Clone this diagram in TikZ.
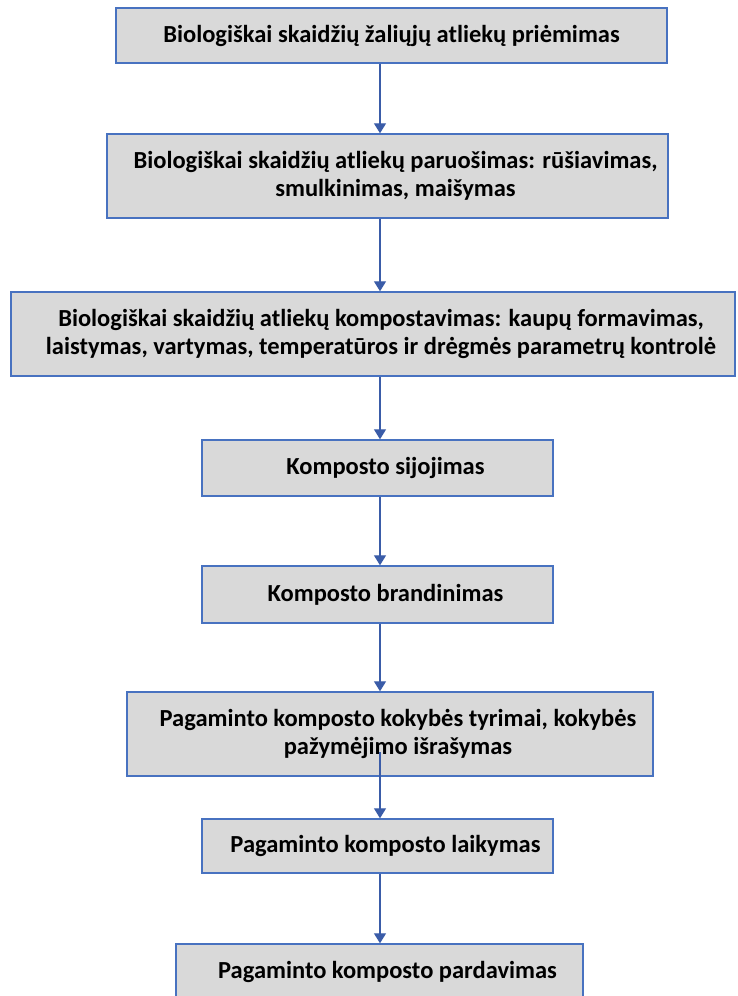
\documentclass[tikz,border=0pt]{standalone}
\usepackage{fontspec}
\setmainfont{Carlito}
\usepackage{xcolor}
\usepackage{tikz}
\usetikzlibrary{arrows.meta, positioning, calc}
\definecolor{stepgray}{RGB}{217,217,217}
\definecolor{stepblue}{RGB}{72,114,192}
\definecolor{arrowblue}{RGB}{58,92,168}
\tikzset{
  stepbox/.style={rectangle, draw=stepblue, fill=stepgray, line width=1.4pt,
    inner sep=0pt},
  steptext/.style={align=center, inner sep=0pt, xshift=8pt,
    font=\fontsize{24.5}{28}\selectfont\bfseries},
  arrow/.style={-{Triangle[length=10pt, width=12pt]}, line width=1.3pt, color=arrowblue},
}
\begin{document}
\begin{tikzpicture}[x=1pt, y=-1pt]
  \clip (0,0) rectangle (738,996);
  \coordinate (axis) at (380,0);
  \node[stepbox, minimum width=551pt, minimum height=55pt] (k1) at (391.5,35.5) {};
  \node[stepbox, minimum width=561pt, minimum height=84pt] (k2) at (387.5,176) {};
  \node[stepbox, minimum width=724pt, minimum height=84pt] (k3) at (373,334) {};
  \node[stepbox, minimum width=351pt, minimum height=56pt] (k4) at (377.5,468) {};
  \node[stepbox, minimum width=351pt, minimum height=57pt] (k5) at (377.5,594.5) {};
  \node[stepbox, minimum width=526pt, minimum height=84pt] (k6) at (390,734) {};
  \node[stepbox, minimum width=351pt, minimum height=54pt] (k7) at (377.5,846) {};
  \node[stepbox, minimum width=407pt, minimum height=56pt] (k8) at (379.5,972) {};
  \node[steptext, xshift=-8pt] (k1t) at (k1) {Biologiškai skaidžių žaliųjų atliekų priėmimas};
  \node[steptext] (k2t) at (k2)
    {Biologiškai skaidžių atliekų paruošimas: rūšiavimas,\\ smulkinimas, maišymas};
  \node[steptext] (k3t) at (k3)
    {Biologiškai skaidžių atliekų kompostavimas: kaupų formavimas,\\
     laistymas, vartymas, temperatūros ir drėgmės parametrų kontrolė};
  \node[steptext] (k4t) at (k4) {Komposto sijojimas};
  \node[steptext] (k5t) at (k5) {Komposto brandinimas};
  \node[steptext] (k6t) at (k6)
    {Pagaminto komposto kokybės tyrimai, kokybės\\ pažymėjimo išrašymas};
  \node[steptext] (k7t) at (k7) {Pagaminto komposto laikymas};
  \node[steptext] (k8t) at (k8) {Pagaminto komposto pardavimas};
  \coordinate (k6in) at (380,752);
  \draw[arrow] (k1.south -| axis) -- (k2.north -| axis);
  \draw[arrow] (k2.south -| axis) -- (k3.north -| axis);
  \draw[arrow] (k3.south -| axis) -- (k4.north -| axis);
  \draw[arrow] (k4.south -| axis) -- (k5.north -| axis);
  \draw[arrow] (k5.south -| axis) -- (k6.north -| axis);
  \draw[arrow] (k6in) -- (k7.north -| axis);
  \draw[arrow] (k7.south -| axis) -- (k8.north -| axis);
\end{tikzpicture}
\end{document}
